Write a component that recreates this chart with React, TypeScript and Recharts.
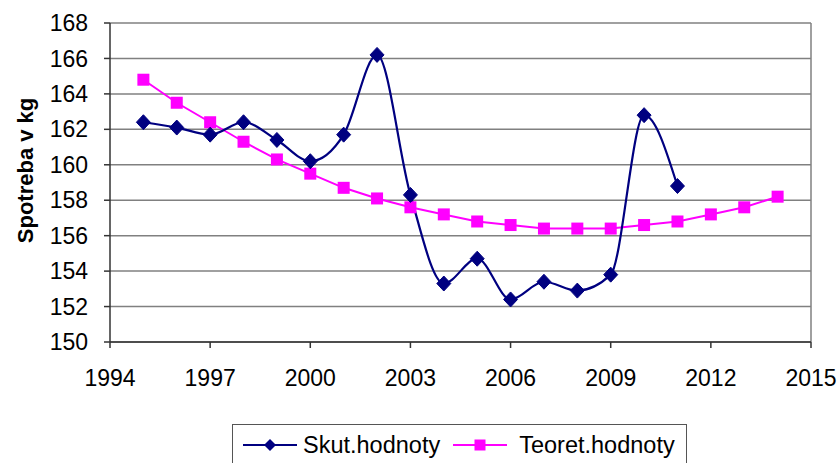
import React from 'react';
import { LineChart, Line, XAxis, YAxis, CartesianGrid, Legend, ReferenceLine } from 'recharts';

const years = [1995, 1996, 1997, 1998, 1999, 2000, 2001, 2002, 2003, 2004, 2005, 2006, 2007, 2008, 2009, 2010, 2011, 2012, 2013, 2014];
const skutValues = [162.4, 162.1, 161.7, 162.4, 161.4, 160.2, 161.7, 166.2, 158.3, 153.3, 154.7, 152.4, 153.4, 152.9, 153.8, 162.8, 158.8];
const teoretValues = [164.8, 163.5, 162.4, 161.3, 160.3, 159.5, 158.7, 158.1, 157.6, 157.2, 156.8, 156.6, 156.4, 156.4, 156.4, 156.6, 156.8, 157.2, 157.6, 158.2];
const xTicks = [1994, 1997, 2000, 2003, 2006, 2009, 2012, 2015];
const yTicks = [150, 152, 154, 156, 158, 160, 162, 164, 166, 168];

const SKUT = 'Skut.hodnoty';
const TEORET = 'Teoret.hodnoty';
const NAVY = '#000080';
const MAGENTA = '#FF00FF';
const FONT = '"Liberation Sans", Arial, sans-serif';

const data = years.map((y, i) => ({
  year: y,
  skut: i < skutValues.length ? skutValues[i] : null,
  teoret: teoretValues[i],
}));

const Diamond = (props: any) => {
  const { cx, cy, index } = props;
  if (cx == null || cy == null || isNaN(cy)) return <g key={`d-${index}`} />;
  return (
    <path
      key={`d-${index}`}
      d={`M${cx},${cy - 7.5}L${cx + 7},${cy}L${cx},${cy + 7.5}L${cx - 7},${cy}Z`}
      fill={NAVY}
      stroke={NAVY}
      strokeWidth={1}
    />
  );
};

const Square = (props: any) => {
  const { cx, cy, index } = props;
  if (cx == null || cy == null || isNaN(cy)) return <g key={`s-${index}`} />;
  return <rect key={`s-${index}`} x={cx - 6} y={cy - 6} width={12} height={12} fill={MAGENTA} />;
};

const LegendIcon = ({ color, shape }: { color: string; shape: 'diamond' | 'square' }) => (
  <svg width={54} height={14} style={{ display: 'block' }}>
    <line x1={0} y1={7} x2={54} y2={7} stroke={color} strokeWidth={2} />
    {shape === 'diamond' ? (
      <path d="M27,1 L33,7 L27,13 L21,7 Z" fill={color} />
    ) : (
      <rect x={21.5} y={1.5} width={11} height={11} fill={color} />
    )}
  </svg>
);

const renderLegend = () => (
  <div
    style={{
      boxSizing: 'border-box',
      width: 455,
      height: 42,
      border: '1px solid #555',
      display: 'flex',
      alignItems: 'center',
      paddingLeft: 10,
      paddingTop: 0,
      fontFamily: FONT,
      fontSize: 23.5,
      color: '#000',
      background: '#fff',
    }}
  >
    <LegendIcon color={NAVY} shape="diamond" />
    <span style={{ marginLeft: 6, whiteSpace: 'nowrap' }}>{SKUT}</span>
    <span style={{ marginLeft: 13 }}>
      <LegendIcon color={MAGENTA} shape="square" />
    </span>
    <span style={{ marginLeft: 12, whiteSpace: 'nowrap' }}>{TEORET}</span>
  </div>
);

export default function App() {
  return (
    <div style={{ position: 'absolute', left: 0, top: 0, width: 837, height: 463, background: '#fff' }}>
      <LineChart width={837} height={463} data={data} margin={{ top: 23, right: 26, left: 0, bottom: 0 }}>
        <CartesianGrid vertical={false} stroke="#808080" strokeWidth={1.5} />
        <ReferenceLine x={2015} stroke="#808080" strokeWidth={1.5} />
        <XAxis
          dataKey="year"
          type="number"
          domain={[1994, 2015]}
          ticks={xTicks}
          height={79}
          tickSize={6}
          tickMargin={22}
          stroke="#333"
          strokeWidth={1.5}
          tick={{ fill: '#000', fontSize: 23, fontFamily: FONT }}
          interval={0}
        />
        <YAxis
          type="number"
          domain={[150, 168]}
          ticks={yTicks}
          width={110}
          tickSize={6}
          tickMargin={16}
          stroke="#333"
          strokeWidth={1.5}
          tick={{ fill: '#000', fontSize: 23, fontFamily: FONT }}
          interval={0}
          label={{
            value: 'Spotreba v kg',
            angle: -90,
            position: 'insideLeft',
            offset: 25,
            dy: -12,
            style: { textAnchor: 'middle', fontWeight: 'bold', fontSize: 22, fontFamily: FONT, fill: '#000' },
          }}
        />
        <Legend verticalAlign="bottom" content={renderLegend} wrapperStyle={{ top: 424, left: 232, bottom: 'auto', width: 455 }} />
        <Line
          type="linear"
          dataKey="teoret"
          name={TEORET}
          stroke={MAGENTA}
          strokeWidth={2}
          dot={Square}
          isAnimationActive={false}
        />
        <Line
          type="monotone"
          dataKey="skut"
          name={SKUT}
          stroke={NAVY}
          strokeWidth={2.2}
          dot={Diamond}
          connectNulls={false}
          isAnimationActive={false}
        />
      </LineChart>
    </div>
  );
}
